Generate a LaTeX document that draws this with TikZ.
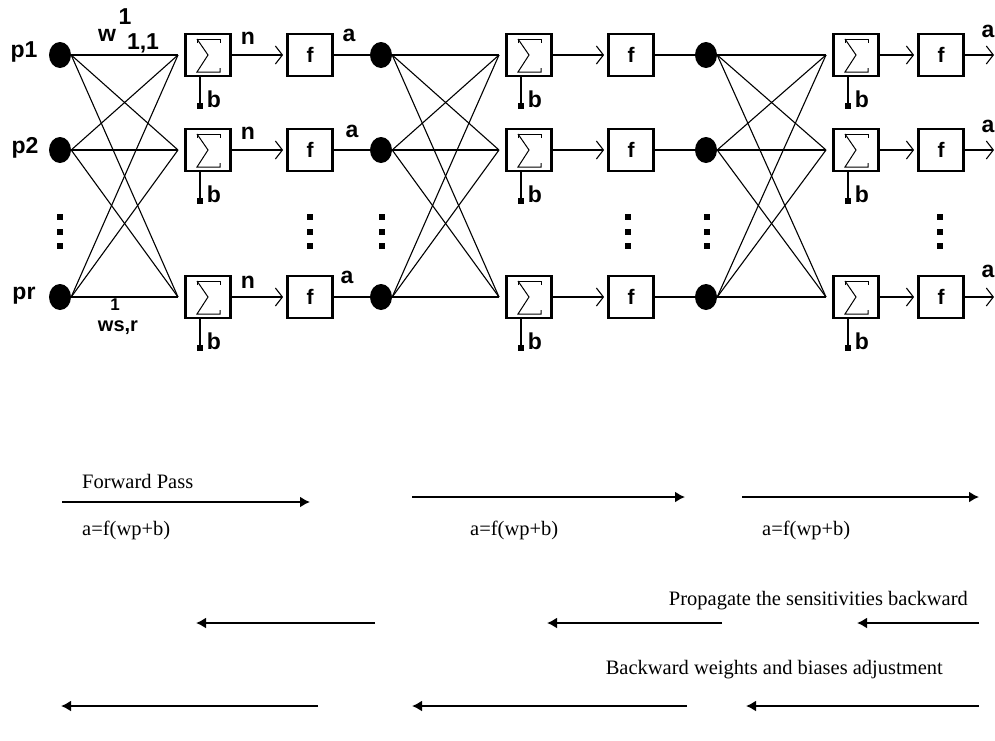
\documentclass[tikz,border=0pt]{standalone}
\usepackage{fontspec}
\setmainfont{Liberation Serif}
\setsansfont{Liberation Sans}
\usetikzlibrary{shapes.geometric,arrows.meta}
\begin{document}
\begin{tikzpicture}[x=1pt,y=-1pt,
  dot/.style={ellipse,fill=black,minimum width=22pt,minimum height=26pt,inner sep=0pt},
  box/.style={draw,line width=2.8pt,minimum width=45pt,minimum height=42pt,inner sep=0pt},
  conn/.style={line width=1.1pt},
  sig/.style={line width=1pt},
  sqr/.style={fill=black,minimum size=6pt,inner sep=0pt},
  vdot/.style={fill=black,minimum width=6pt,minimum height=6pt,inner sep=0pt},
  lbl/.style={font=\sffamily\bfseries\fontsize{23}{25}\selectfont,inner sep=0pt},
  flbl/.style={font=\sffamily\bfseries\fontsize{21}{23}\selectfont},
  slbl/.style={font=\sffamily\bfseries\fontsize{20}{22}\selectfont,inner sep=0pt},
  txt/.style={font=\fontsize{20.5}{23}\selectfont,inner sep=0pt},
  barb/.style={-{Straight Barb[length=7pt,width=18pt,line width=1.1pt]}},
  big/.style={line width=1.8pt,-{Latex[length=10pt,width=11pt]}}]
\useasboundingbox (0,0) rectangle (995,740);
% layers
\foreach \k/\dx/\sx/\fx in {1/60/208/310, 2/381/529/631, 3/706/856/941}{
  \foreach \r/\y in {1/55,2/150,3/297}{
    \node[dot] (d\k-\r) at (\dx,\y) {};
    \node[box] (s\k-\r) at (\sx,\y) {};
    \node[box,flbl,inner sep=0pt] (f\k-\r) at (\fx,\y) {f};
    \coordinate (c\k-\r) at (\sx-30,\y);
    \node[sqr] (q\k-\r) at (\sx-8,\y+51) {};
    \node[lbl] (b\k-\r) at (\sx+6,\y+44) {b};
  }
}
\foreach \k in {1,2,3}{
  \foreach \r in {1,2,3}{
    \begin{scope}[shift={(s\k-\r.center)}]
      \draw[sig] (-11,-12) -- (-11,-16) -- (12,-16) -- (12,-12);
      \draw[sig] (-11,-16) -- (0,0) -- (-11,17) -- (12,17) -- (12,13);
    \end{scope}
    \draw[conn,barb,shorten >=3pt] (s\k-\r.east) -- (f\k-\r.west);
    \draw[conn] (s\k-\r.south -| q\k-\r) -- (q\k-\r.center);
    \foreach \j in {1,2,3}{
      \draw[conn] (d\k-\r.east) -- (c\k-\j);
    }
  }
}
\foreach \r/\y in {1/55,2/150,3/297}{
  \draw[conn] (f1-\r.east) -- (d2-\r.west);
  \draw[conn] (f2-\r.east) -- (d3-\r.west);
  \coordinate (o\r) at (994,\y);
  \draw[conn,barb] (f3-\r.east) -- (o\r);
}
% vertical ellipses
\foreach \x [count=\n] in {60,310,382,628,707,940}{
  \node[vdot] (va\n) at (\x,217) {};
  \node[vdot] (vb\n) at (\x,232) {};
  \node[vdot] (vc\n) at (\x,246) {};
}
% labels
\node[lbl] (lp1) at (24,52) {p1};
\node[lbl] (lp2) at (25,148) {p2};
\node[lbl] (lpr) at (24,296) {pr};
\node[lbl] (ln1) at (248,38) {n};
\node[lbl] (ln2) at (248,133) {n};
\node[lbl] (ln3) at (248,282) {n};
\node[lbl] (la1) at (349,35) {a};
\node[lbl] (la2) at (352,131) {a};
\node[lbl] (la3) at (347,277) {a};
\node[lbl] (lo1) at (988,31) {a};
\node[lbl] (lo2) at (988,126) {a};
\node[lbl] (lo3) at (988,271) {a};
\node[lbl] (lw) at (107,35) {w};
\node[lbl] (lwsup) at (125,17) {1};
\node[lbl] (lwsub) at (143,43) {1,1};
\node[slbl,font=\sffamily\bfseries\fontsize{17}{19}\selectfont] (lw2sup) at (115,305) {1};
\node[slbl] (lw2) at (118,328) {ws,r};
% forward pass
\coordinate (fa1s) at (62,502);  \coordinate (fa1e) at (310,502);
\coordinate (fa2s) at (412,497); \coordinate (fa2e) at (685,497);
\coordinate (fa3s) at (742,497); \coordinate (fa3e) at (979,497);
\draw[big] (fa1s) -- (fa1e);
\draw[big] (fa2s) -- (fa2e);
\draw[big] (fa3s) -- (fa3e);
\node[txt,anchor=west] (tfp) at (82,481) {Forward Pass};
\node[txt,anchor=west] (te1) at (82,530) {a=f(wp+b)};
\node[txt,anchor=west] (te2) at (470,530) {a=f(wp+b)};
\node[txt,anchor=west] (te3) at (762,530) {a=f(wp+b)};
% backward sensitivities
\coordinate (ba1s) at (375,623); \coordinate (ba1e) at (196,623);
\coordinate (ba2s) at (722,623); \coordinate (ba2e) at (547,623);
\coordinate (ba3s) at (979,623); \coordinate (ba3e) at (857,623);
\draw[big] (ba1s) -- (ba1e);
\draw[big] (ba2s) -- (ba2e);
\draw[big] (ba3s) -- (ba3e);
\node[txt,anchor=east] (tps) at (968,601) {Propagate the sensitivities backward};
% backward adjustment
\coordinate (bb1s) at (318,706); \coordinate (bb1e) at (61,706);
\coordinate (bb2s) at (687,706); \coordinate (bb2e) at (412,706);
\coordinate (bb3s) at (979,706); \coordinate (bb3e) at (746,706);
\draw[big] (bb1s) -- (bb1e);
\draw[big] (bb2s) -- (bb2e);
\draw[big] (bb3s) -- (bb3e);
\node[txt,anchor=east] (tba) at (943,670) {Backward weights and biases adjustment};
\end{tikzpicture}
\end{document}
